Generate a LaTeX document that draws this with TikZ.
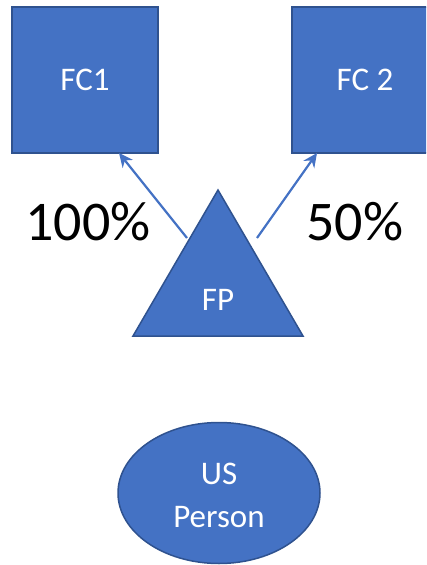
\documentclass[tikz,border=0pt]{standalone}
\usepackage{fontspec}
\setmainfont{Carlito}
\usetikzlibrary{arrows.meta,shapes.geometric}
\definecolor{accent}{HTML}{4472C4}
\definecolor{accentdark}{HTML}{2F528F}
\tikzset{
  shapebox/.style={fill=accent, draw=accentdark, line width=1.5pt},
  whitetext/.style={text=white, font=\fontsize{33}{43}\selectfont, align=center},
  pct/.style={font=\fontsize{56}{60}\selectfont, text=black},
  owns/.style={draw=accent, line width=2.2pt, -{Stealth[length=14pt,width=13pt]}}
}
\begin{document}
\begin{tikzpicture}[x=1pt,y=-1pt]
  \useasboundingbox (0,0) rectangle (426,565);
  \begin{scope}
    \clip (0,0) rectangle (426,565);
    % corporations
    \node[shapebox, minimum width=146pt, minimum height=146pt, inner sep=0pt] (fc1) at (85,80) {};
    \node[whitetext] at (fc1.center) {FC1};
    \node[shapebox, minimum width=146pt, minimum height=146pt, inner sep=0pt] (fc2) at (365,80) {};
    \node[whitetext] at (fc2.center) {FC 2};
    % partnership
    \coordinate (apex) at (218,190);
    \coordinate (bl) at (133,336);
    \coordinate (br) at (303,336);
    \draw[shapebox, line join=miter] (apex) -- (br) -- (bl) -- cycle;
    \node[whitetext] (fp) at (218,300) {FP};
    % owner
    \node[shapebox, ellipse, minimum width=202pt, minimum height=141pt, inner sep=0pt] (us) at (219,493) {};
    \node[whitetext] at (219,495) {US\\Person};
  \end{scope}
  % ownership arrows
  \coordinate (s1) at (187,238);
  \coordinate (e1) at (119,153);
  \coordinate (s2) at (257,238);
  \coordinate (e2) at (317,153);
  \draw[owns] (s1) -- (e1);
  \draw[owns] (s2) -- (e2);
  \node[pct] (p1) at (88,222) {100\%};
  \node[pct] (p2) at (355,222) {50\%};
\end{tikzpicture}
\end{document}
